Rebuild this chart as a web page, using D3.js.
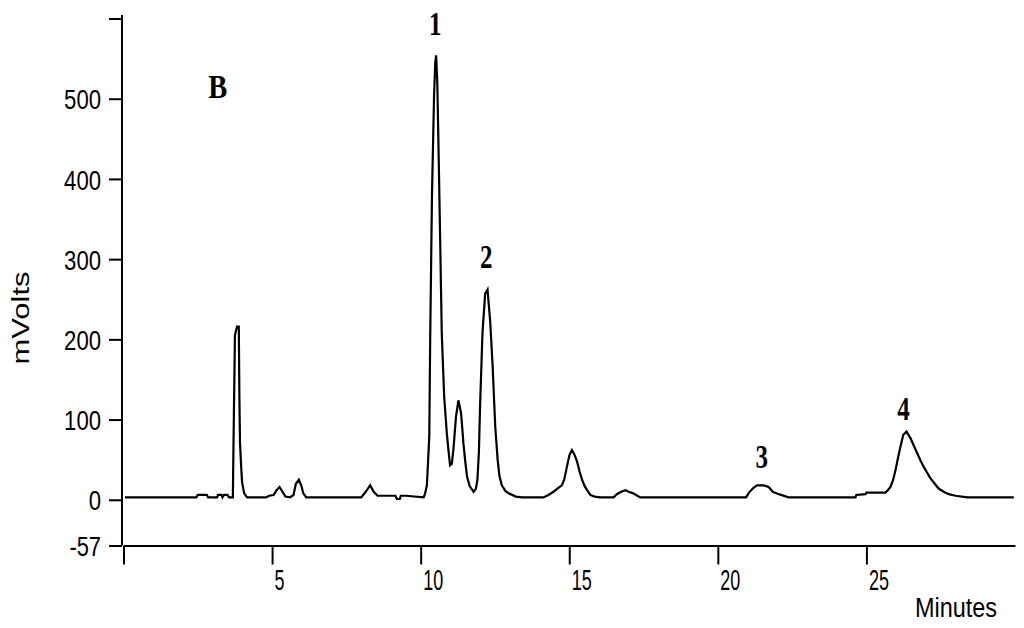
<!DOCTYPE html>
<html>
<head>
<meta charset="utf-8">
<script src="https://cdn.jsdelivr.net/npm/d3@7"></script>
<style>
  html, body { margin: 0; padding: 0; background: #fff; }
  svg { display: block; }
</style>
</head>
<body>
<svg id="chart" width="1024" height="628"></svg>
<script>
// ---- data ----
const times = [0.05,2.45,2.5,2.8,2.85,3.15,3.18,3.3,3.33,3.38,3.5,3.55,3.68,3.70,3.75,3.82,3.88,3.90,3.92,3.96,3.99,4.06,4.16,4.8,4.9,5.05,5.15,5.25,5.35,5.45,5.6,5.72,5.8,5.9,5.98,6.05,6.15,8.0,8.15,8.3,8.42,8.55,9.15,9.2,9.3,9.33,9.5,10.1,10.15,10.21,10.29,10.32,10.38,10.45,10.49,10.52,10.56,10.60,10.66,10.71,10.79,10.88,10.94,10.99,11.05,11.10,11.19,11.27,11.36,11.44,11.50,11.56,11.65,11.78,11.86,11.91,11.96,12.00,12.08,12.17,12.25,12.34,12.42,12.51,12.59,12.65,12.73,12.85,12.96,13.2,13.41,14.13,14.3,14.47,14.6,14.75,14.83,14.92,15.01,15.09,15.18,15.26,15.35,15.43,15.52,15.6,15.71,15.85,16.04,16.49,16.6,16.75,16.89,17.0,17.15,17.39,20.95,21.05,21.2,21.32,21.55,21.71,21.85,22.05,22.38,24.63,24.66,24.97,25.0,25.64,25.72,25.81,25.9,25.98,26.05,26.12,26.24,26.35,26.48,26.6,26.71,26.82,26.93,27.04,27.15,27.3,27.43,27.6,27.77,28.0,28.39,29.96];
const mvolts = [3,3,6,6,3,3,6,6,3,6,6,3,3,65,205,216,216,128,71,41,22,8,3,3,5,6,12,16,10,4,3,6,20,25,18,8,3,3,10,18,10,5,5,1,1,5,5,3,8,18,79,199,378,503,544,554,520,440,316,208,129,83,60,43,45,62,104,124,108,70,48,29,17,10,14,25,60,118,208,257,262,222,168,91,50,30,18,11,8,4,3,3,6,10,14,18,25,41,56,62,56,48,35,25,17,12,6,4,3,3,7,10,12,10,8,3,3,9,15,18,18,16,10,7,3,3,6,7,9,9,12,16,25,37,50,62,81,85,77,67,58,49,41,34,27,20,14,10,7,5,3,3];

const yTicks = [600, 500, 400, 300, 200, 100, 0, -57];
const yTickLabels = ["", "500", "400", "300", "200", "100", "0", "-57"];
const xTicks = [0, 5, 10, 15, 20, 25];
const xTickLabels = ["", "5", "10", "15", "20", "25"];

const peakNames = ["1", "2", "3", "4"];
const peakTimes = [10.49, 12.21, 21.48, 26.25];
const peakLabelLevels = [579, 289, 40, 100];

const panelLabel = "B";
const xTitle = "Minutes";
const yTitle = "mVolts";

// ---- scales ----
const svg = d3.select("#chart");
const x = d3.scaleLinear().domain([0, 30]).range([123.5, 1015]);
const y = d3.scaleLinear().domain([-57, 600]).range([545.5, 18.5]);

const sans = "'Liberation Sans', Arial, sans-serif";
const serif = "'Liberation Serif', 'Times New Roman', serif";

// ---- y axis ----
const gy = svg.append("g")
  .attr("transform", `translate(${x(0) - 1.5},0)`)
  .call(d3.axisLeft(y).tickValues(yTicks).tickFormat((d, i) => yTickLabels[i])
    .tickSize(13).tickSizeOuter(0).tickPadding(8));
gy.select(".domain").attr("stroke", "#000").attr("stroke-width", 2)
  .attr("d", `M0,15V${y(-57)}`);
gy.selectAll(".tick line").attr("stroke", "#000").attr("stroke-width", 2);
gy.selectAll(".tick text")
  .attr("font-family", sans).attr("font-size", 28).attr("fill", "#000")
  .attr("dy", "0.36em")
  .attr("lengthAdjust", "spacingAndGlyphs")
  .attr("textLength", function () {
    const t = d3.select(this).text();
    return t.replace("-", "").length * 12.3 + (t.includes("-") ? 7 : 0);
  });

// ---- x axis ----
const gx = svg.append("g")
  .attr("transform", `translate(0,${y(-57)})`)
  .call(d3.axisBottom(x).tickValues(xTicks).tickFormat((d, i) => xTickLabels[i])
    .tickSize(19).tickSizeOuter(0));
gx.select(".domain").attr("stroke", "#000").attr("stroke-width", 2);
gx.selectAll(".tick line").attr("stroke", "#000").attr("stroke-width", 2);
gx.selectAll(".tick text")
  .attr("font-family", sans).attr("font-size", 29).attr("fill", "#000")
  .attr("text-anchor", "start")
  .attr("x", 2).attr("y", 44).attr("dy", 0)
  .attr("lengthAdjust", "spacingAndGlyphs")
  .attr("textLength", function () { return d3.select(this).text().length * 10; });

// ---- axis titles ----
svg.append("text")
  .attr("x", 997).attr("y", 617)
  .attr("text-anchor", "end")
  .attr("font-family", sans).attr("font-size", 27)
  .attr("lengthAdjust", "spacingAndGlyphs").attr("textLength", 82)
  .text(xTitle);

svg.append("text")
  .attr("transform", "translate(28.5,318) rotate(-90)")
  .attr("text-anchor", "middle")
  .attr("font-family", sans).attr("font-size", 23)
  .attr("lengthAdjust", "spacingAndGlyphs").attr("textLength", 93)
  .text(yTitle);

// ---- trace ----
const pts = times.map((t, i) => [t, mvolts[i]]);
svg.append("path")
  .datum(pts)
  .attr("fill", "none")
  .attr("stroke", "#000")
  .attr("stroke-width", 2.2)
  .attr("stroke-linejoin", "miter")
  .attr("d", d3.line().x(d => x(d[0])).y(d => y(d[1])).curve(d3.curveLinear));

// ---- peak labels ----
svg.selectAll(".peak")
  .data(peakNames)
  .join("text")
  .attr("class", "peak")
  .attr("x", (d, i) => x(peakTimes[i]))
  .attr("y", (d, i) => y(peakLabelLevels[i]))
  .attr("text-anchor", "middle")
  .attr("font-family", serif).attr("font-weight", "bold").attr("font-size", 34)
  .attr("lengthAdjust", "spacingAndGlyphs").attr("textLength", 12.5)
  .text(d => d);

// ---- panel label ----
svg.append("text")
  .attr("x", x(2.85)).attr("y", y(501))
  .attr("font-family", serif).attr("font-weight", "bold").attr("font-size", 33)
  .attr("lengthAdjust", "spacingAndGlyphs").attr("textLength", 19)
  .text(panelLabel);
</script>
</body>
</html>
